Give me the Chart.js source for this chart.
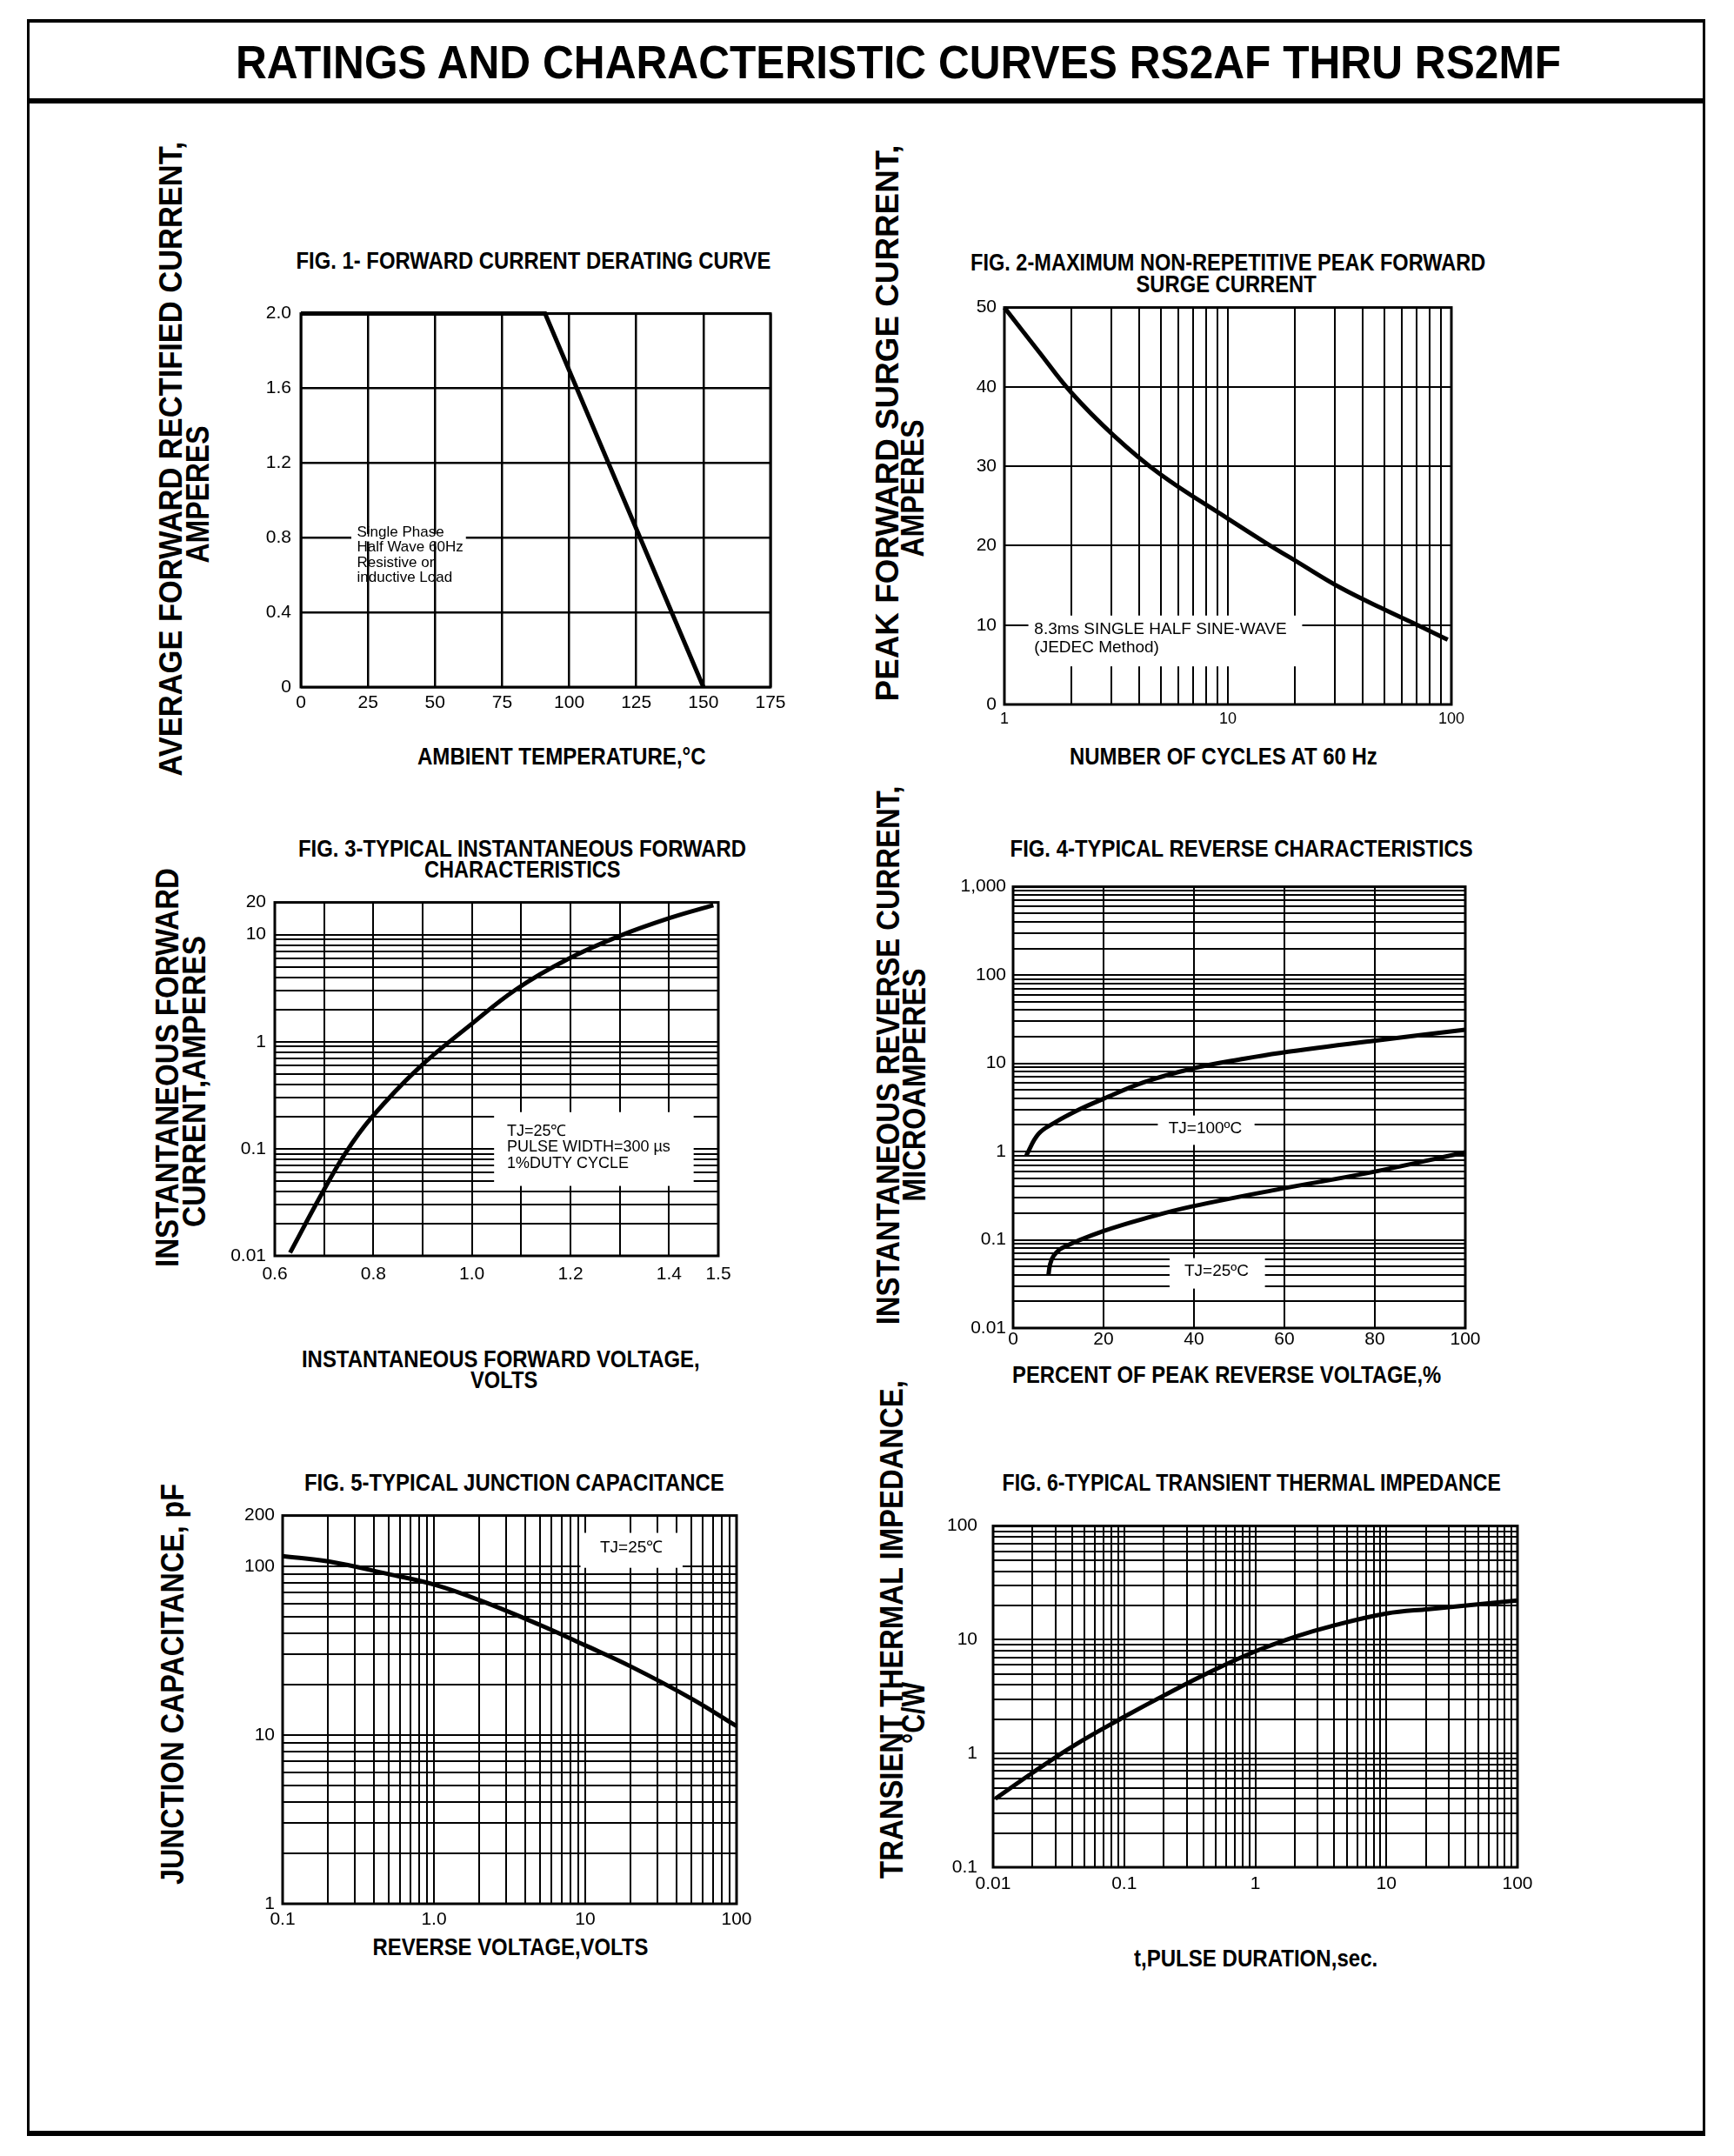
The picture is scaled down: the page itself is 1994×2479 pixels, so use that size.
<!DOCTYPE html>
<html>
<head>
<meta charset="utf-8">
<script src="https://cdn.jsdelivr.net/npm/chart.js@4.4.1/dist/chart.umd.min.js"></script>
<style>
body { margin: 0; background: #fff; }
#page { position: relative; width: 1994px; height: 2479px; overflow: hidden; background: #fff;
  font-family: "Liberation Sans", Arial, Helvetica, sans-serif; }
.rule { position: absolute; background: #000; }
.txt { position: absolute; white-space: nowrap; line-height: 1; color: #000; transform-origin: 50% 50%; }
canvas { position: absolute; }
</style>
</head>
<body>
<div id="page"></div>
<script>
// ---- data ----

// Fig 1: forward current derating
var fig1Temp = [0, 91, 150];
var fig1Current = [2.0, 2.0, 0];

// Fig 2: peak forward surge current
var fig2Cycles = [1, 1.43, 1.99, 3.08, 4.98, 10, 14.7, 20.6, 31.9, 51.5, 71.9, 96.3];
var fig2Surge = [50, 44.4, 39.3, 33.9, 29.0, 23.4, 20.4, 17.9, 14.7, 11.8, 9.9, 8.15];

// Fig 3: instantaneous forward characteristics
var fig3Volts = [0.631, 0.693, 0.742, 0.796, 0.891, 0.995, 1.09, 1.194, 1.301, 1.405, 1.49];
var fig3Amps = [0.0107, 0.0363, 0.0891, 0.195, 0.562, 1.41, 3.09, 5.89, 9.77, 14.45, 18.8];

// Fig 4: reverse characteristics
var fig4PctHot = [2.9, 5.6, 9.1, 14.5, 19.9, 28.8, 39.6, 51.2, 59, 79, 100];
var fig4CurHot = [0.9, 1.58, 2.11, 2.97, 3.94, 6.07, 8.7, 11.3, 13.1, 17.8, 24.0];
var fig4PctCold = [7.8, 8.2, 9.0, 10.9, 19.9, 30.6, 39.6, 59, 79, 100];
var fig4CurCold = [0.0394, 0.053, 0.066, 0.081, 0.125, 0.183, 0.239, 0.376, 0.579, 0.98];

// Fig 5: junction capacitance
var fig5Volts = [0.1, 0.2, 0.5, 1.0, 2, 5, 10, 20, 50, 100];
var fig5Cap = [115, 107, 90, 78, 63, 45, 34, 25.5, 16.5, 11.3];

// Fig 6: transient thermal impedance
var fig6Time = [0.0104, 0.0196, 0.0416, 0.1, 0.2, 0.458, 1.0, 2.05, 3.74, 10, 21, 100];
var fig6Imp = [0.40, 0.666, 1.18, 2.1, 3.23, 5.25, 7.9, 10.7, 13.1, 17.0, 18.6, 22.1];

// tick labels
var fig1XTicks = [0, 25, 50, 75, 100, 125, 150, 175];
var fig1XLabels = ['0', '25', '50', '75', '100', '125', '150', '175'];
var fig1YTicks = [0, 0.4, 0.8, 1.2, 1.6, 2.0];
var fig1YLabels = ['0', '0.4', '0.8', '1.2', '1.6', '2.0'];
var fig2XTicks = [1, 10, 100];
var fig2XLabels = ['1', '10', '100'];
var fig2YTicks = [0, 10, 20, 30, 40, 50];
var fig2YLabels = ['0', '10', '20', '30', '40', '50'];
var fig3XTicks = [0.6, 0.8, 1.0, 1.2, 1.4, 1.5];
var fig3XLabels = ['0.6', '0.8', '1.0', '1.2', '1.4', '1.5'];
var fig3YTicks = [0.01, 0.1, 1, 10, 20];
var fig3YLabels = ['0.01', '0.1', '1', '10', '20'];
var fig4XTicks = [0, 20, 40, 60, 80, 100];
var fig4XLabels = ['0', '20', '40', '60', '80', '100'];
var fig4YTicks = [0.01, 0.1, 1, 10, 100, 1000];
var fig4YLabels = ['0.01', '0.1', '1', '10', '100', '1,000'];
var fig5XTicks = [0.1, 1, 10, 100];
var fig5XLabels = ['0.1', '1.0', '10', '100'];
var fig5YTicks = [1, 10, 100, 200];
var fig5YLabels = ['1', '10', '100', '200'];
var fig6XTicks = [0.01, 0.1, 1, 10, 100];
var fig6XLabels = ['0.01', '0.1', '1', '10', '100'];
var fig6YTicks = [0.1, 1, 10, 100];
var fig6YLabels = ['0.1', '1', '10', '100'];


var FONT = '"Liberation Sans", Arial, Helvetica, sans-serif';
var page = document.getElementById('page');


function rule(l, t, w, h) {
  var d = document.createElement('div');
  d.className = 'rule';
  d.style.left = l + 'px';
  d.style.top = t + 'px';
  d.style.width = w + 'px';
  d.style.height = h + 'px';
  page.appendChild(d);
}


// Text centred on (cx, cy), squeezed along its reading direction to a given length.
function text(str, cx, cy, size, len, rotate) {
  var el = document.createElement('div');
  el.className = 'txt';
  el.textContent = str;
  el.style.fontSize = size + 'px';
  el.style.fontWeight = 'bold';
  page.appendChild(el);
  var w = el.offsetWidth, h = el.offsetHeight;
  var sx = len ? len / w : 1;
  el.style.left = (cx - w / 2) + 'px';
  el.style.top = (cy - h / 2) + 'px';
  el.style.transform = (rotate ? 'rotate(-90deg) ' : '') + 'scaleX(' + sx + ')';
}


function pts(xs, ys) {
  return xs.map(function(x, i) { return {x: x, y: ys[i]}; });
}


function logGrid(min, max) {
  var out = [];
  var e0 = Math.floor(Math.log10(min) + 1e-9);
  var e1 = Math.ceil(Math.log10(max) - 1e-9);
  for (var e = e0; e <= e1; e++) {
    for (var m = 1; m <= 9; m++) {
      var v = Number((m * Math.pow(10, e)).toPrecision(6));
      if (v >= min * (1 - 1e-9) && v <= max * (1 + 1e-9)) {
        out.push(v);
      }
    }
  }
  if (Math.abs(out[out.length - 1] / max - 1) > 1e-9) {
    out.push(max);
  }
  return out;
}


function linGrid(min, max, step) {
  var out = [];
  var n = Math.round((max - min) / step);
  for (var i = 0; i <= n; i++) {
    out.push(Number((min + i * step).toPrecision(6)));
  }
  return out;
}


function labelFor(v, vals, txt) {
  for (var i = 0; i < vals.length; i++) {
    var hit = vals[i] === 0 ? Math.abs(v) < 1e-12 : Math.abs(v / vals[i] - 1) < 1e-6;
    if (hit) {
      return txt[i];
    }
  }
  return '';
}


function axis(o) {
  return {
    type: o.type,
    min: o.min,
    max: o.max,
    afterBuildTicks: function(s) {
      s.ticks = o.grid.map(function(v) { return {value: v}; });
    },
    afterFit: function(s) {
      if (s.isHorizontal()) {
        s.height = o.fit;
      } else {
        s.width = o.fit;
      }
    },
    grid: {color: '#000', lineWidth: o.lineWidth || 2, drawTicks: false},
    border: {display: false},
    ticks: {
      autoSkip: false,
      maxRotation: 0,
      minRotation: 0,
      padding: o.pad,
      color: '#000',
      font: {family: FONT, size: o.size || 21},
      callback: function(v) { return labelFor(v, o.vals, o.txt); },
    },
  };
}


function line(data) {
  return {
    data: data,
    borderColor: '#000',
    borderWidth: 5,
    pointRadius: 0,
    fill: false,
    clip: false,
    tension: 0.4,
  };
}


// Frame round the plot area plus white-backed notes.
function decorations(notes) {
  return {
    id: 'decorations',
    beforeDatasetsDraw: function(chart) {
      var ctx = chart.ctx, sx = chart.scales.x, sy = chart.scales.y;
      ctx.save();
      notes.forEach(function(n) {
        if (n.box) {
          var x0 = sx.getPixelForValue(n.box[0]), x1 = sx.getPixelForValue(n.box[1]);
          var y0 = sy.getPixelForValue(n.box[2]), y1 = sy.getPixelForValue(n.box[3]);
          ctx.fillStyle = '#fff';
          ctx.fillRect(x0, y1, x1 - x0, y0 - y1);
        }
        ctx.fillStyle = '#000';
        ctx.font = n.size + 'px ' + FONT;
        ctx.textAlign = n.align || 'left';
        ctx.textBaseline = 'middle';
        var px = sx.getPixelForValue(n.x), py = sy.getPixelForValue(n.y);
        n.lines.forEach(function(s, i) {
          ctx.fillText(s, px, py + i * n.lh);
        });
      });
      ctx.restore();
    },
    afterDraw: function(chart) {
      var a = chart.chartArea, ctx = chart.ctx;
      ctx.save();
      ctx.strokeStyle = '#000';
      ctx.lineWidth = 3;
      ctx.strokeRect(a.left, a.top, a.right - a.left, a.bottom - a.top);
      ctx.restore();
    },
  };
}


// box: plot area in page pixels; padL / padB are the y / x axis sizes.
function figure(box, padL, padB, xAxis, yAxis, datasets, notes) {
  var padT = 20, padR = 40;
  var canvas = document.createElement('canvas');
  canvas.width = box.r - box.l + padL + padR;
  canvas.height = box.b - box.t + padT + padB;
  canvas.style.left = (box.l - padL) + 'px';
  canvas.style.top = (box.t - padT) + 'px';
  page.appendChild(canvas);
  xAxis.fit = padB;
  yAxis.fit = padL;
  new Chart(canvas, {
    type: 'line',
    data: {datasets: datasets},
    options: {
      responsive: false,
      devicePixelRatio: 1,
      animation: false,
      layout: {padding: {left: 0, top: padT, right: padR, bottom: 0}},
      plugins: {legend: {display: false}, tooltip: {enabled: false}, title: {display: false}},
      scales: {x: axis(xAxis), y: axis(yAxis)},
    },
    plugins: [decorations(notes || [])],
  });
}


// ---- page frame and titles ----
rule(31, 22, 1930, 4);
rule(31, 113, 1930, 6);
rule(31, 2450, 1930, 6);
rule(31, 22, 3, 2434);
rule(1958, 22, 3, 2434);
text('RATINGS AND CHARACTERISTIC CURVES RS2AF THRU RS2MF', 1033, 71, 54, 1524);

// ---- Fig 1 ----
text('FIG. 1- FORWARD CURRENT DERATING CURVE', 613, 300, 28, 546);
text('AMBIENT TEMPERATURE,\u00B0C', 646, 870, 28, 332);
text('AVERAGE FORWARD RECTIFIED CURRENT,', 197, 527, 37, 730, true);
text('AMPERES', 227, 568, 37, 158, true);
figure({l: 346, t: 357, r: 886, b: 790}, 90, 60,
  {type: 'linear', min: 0, max: 175, grid: linGrid(0, 175, 25), vals: fig1XTicks, txt: fig1XLabels, pad: 6, lineWidth: 2.5},
  {type: 'linear', min: 0, max: 2, grid: linGrid(0, 2, 0.4), vals: fig1YTicks, txt: fig1YLabels, pad: 11, lineWidth: 2.5},
  [Object.assign(line(pts(fig1Temp, fig1Current)), {tension: 0})],
  [{box: [18.8, 61.5, 0.78, 0.82], x: 20.9, y: 0.827, size: 17, lh: 17.3,
    lines: ['Single Phase', 'Half Wave 60Hz', 'Resistive or', 'inductive Load']}]);

// ---- Fig 2 ----
text('FIG. 2-MAXIMUM NON-REPETITIVE PEAK FORWARD', 1412, 302, 28, 592);
text('SURGE CURRENT', 1410, 327, 28, 207);
text('NUMBER OF CYCLES AT 60 Hz', 1407, 870, 28, 354);
text('PEAK  FORWARD SURGE CURRENT,', 1020, 486, 37, 640, true);
text('AMPERES', 1049, 561, 37, 158, true);
figure({l: 1155, t: 352, r: 1669, b: 810}, 90, 60,
  {type: 'logarithmic', min: 1, max: 100, grid: logGrid(1, 100), vals: fig2XTicks, txt: fig2XLabels, pad: 6, size: 18},
  {type: 'linear', min: 0, max: 50, grid: linGrid(0, 50, 10), vals: fig2YTicks, txt: fig2YLabels, pad: 9},
  [line(pts(fig2Cycles, fig2Surge))],
  [{box: [1.28, 21.5, 4.8, 11.2], x: 1.36, y: 9.5, size: 19, lh: 21,
    lines: ['8.3ms SINGLE HALF SINE-WAVE', '(JEDEC Method)']}]);

// ---- Fig 3 ----
text('FIG. 3-TYPICAL INSTANTANEOUS FORWARD', 600, 976, 28, 515);
text('CHARACTERISTICS', 601, 1000, 28, 226);
text('INSTANTANEOUS FORWARD VOLTAGE,', 576, 1563, 28, 458);
text('VOLTS', 579, 1587, 28, 77);
text('INSTANTANEOUS FORWARD', 193, 1227, 37, 459, true);
text('CURRENT,AMPERES', 223, 1243, 37, 335, true);
figure({l: 316, t: 1035, r: 826, b: 1444}, 90, 60,
  {type: 'linear', min: 0.6, max: 1.5, grid: linGrid(0.6, 1.5, 0.1), vals: fig3XTicks, txt: fig3XLabels, pad: 9},
  {type: 'logarithmic', min: 0.01, max: 20, grid: logGrid(0.01, 20), vals: fig3YTicks, txt: fig3YLabels, pad: 10},
  [line(pts(fig3Volts, fig3Amps))],
  [{box: [1.045, 1.45, 0.045, 0.22], x: 1.071, y: 0.145, size: 18, lh: 18.5,
    lines: ['TJ=25\u2103', 'PULSE WIDTH=300 \u00B5s', '1%DUTY CYCLE']}]);

// ---- Fig 4 ----
text('FIG. 4-TYPICAL REVERSE CHARACTERISTICS', 1427, 976, 28, 532);
text('PERCENT OF PEAK REVERSE VOLTAGE,%', 1410, 1581, 28, 493);
text('INSTANTANEOUS REVERSE CURRENT,', 1022, 1213, 37, 620, true);
text('MICROAMPERES', 1051, 1247, 37, 268, true);
figure({l: 1165, t: 1019, r: 1685, b: 1527}, 90, 60,
  {type: 'linear', min: 0, max: 100, grid: linGrid(0, 100, 20), vals: fig4XTicks, txt: fig4XLabels, pad: 1},
  {type: 'logarithmic', min: 0.01, max: 1000, grid: logGrid(0.01, 1000), vals: fig4YTicks, txt: fig4YLabels, pad: 8},
  [line(pts(fig4PctHot, fig4CurHot)), line(pts(fig4PctCold, fig4CurCold))],
  [{box: [32, 53.4, 1.19, 2.56], x: 42.5, y: 1.8, size: 19, lh: 0, align: 'center', lines: ['TJ=100\u00BAC']},
   {box: [34.6, 55.7, 0.028, 0.062], x: 45, y: 0.044, size: 19, lh: 0, align: 'center', lines: ['TJ=25\u00BAC']}]);

// ---- Fig 5 ----
text('FIG. 5-TYPICAL JUNCTION CAPACITANCE', 591, 1705, 28, 483);
text('REVERSE VOLTAGE,VOLTS', 587, 2239, 28, 317);
text('JUNCTION CAPACITANCE, pF', 198, 1936, 37, 461, true);
figure({l: 325, t: 1741, r: 847, b: 2189}, 90, 60,
  {type: 'logarithmic', min: 0.1, max: 100, grid: logGrid(0.1, 100), vals: fig5XTicks, txt: fig5XLabels, pad: 6},
  {type: 'logarithmic', min: 1, max: 200, grid: logGrid(1, 200), vals: fig5YTicks, txt: fig5YLabels, pad: 9},
  [line(pts(fig5Volts, fig5Cap))],
  [{box: [9.3, 44, 98, 158], x: 20.2, y: 128, size: 19, lh: 0, align: 'center', lines: ['TJ=25\u2103']}]);

// ---- Fig 6 ----
text('FIG. 6-TYPICAL TRANSIENT THERMAL IMPEDANCE', 1439, 1705, 28, 573);
text('t,PULSE DURATION,sec.', 1444, 2252, 28, 280);
text('TRANSIENT THERMAL IMPEDANCE,', 1025, 1873, 37, 573, true);
text('\u00B0C/W', 1050, 1969, 37, 71, true);
figure({l: 1142, t: 1744, r: 1745, b: 2147}, 90, 60,
  {type: 'logarithmic', min: 0.01, max: 100, grid: logGrid(0.01, 100), vals: fig6XTicks, txt: fig6XLabels, pad: 7},
  {type: 'logarithmic', min: 0.1, max: 100, grid: logGrid(0.1, 100), vals: fig6YTicks, txt: fig6YLabels, pad: 18},
  [line(pts(fig6Time, fig6Imp))]);
</script>
</body>
</html>
